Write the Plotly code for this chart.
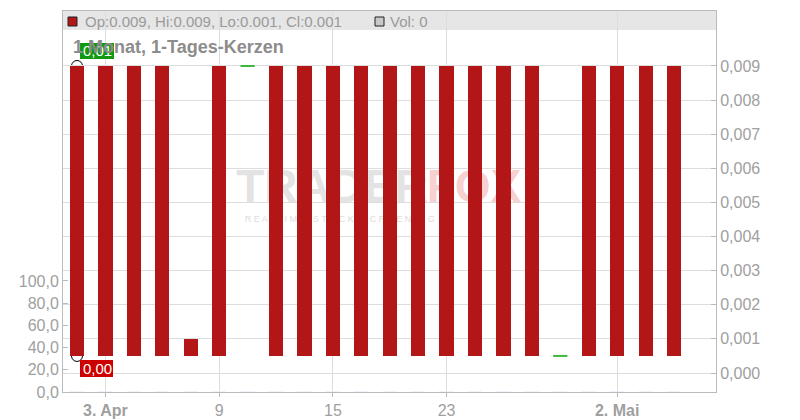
import plotly.graph_objects as go

# ---- data ----
idx = list(range(22))
opens  = [0.009, 0.009, 0.009, 0.009, 0.001, 0.009, 0.009, 0.009, 0.009, 0.009, 0.009,
          0.009, 0.009, 0.009, 0.009, 0.009, 0.009, 0.0005, 0.009, 0.009, 0.009, 0.009]
closes = [0.0005, 0.0005, 0.0005, 0.0005, 0.0005, 0.0005, 0.009, 0.0005, 0.0005, 0.0005, 0.0005,
          0.0005, 0.0005, 0.0005, 0.0005, 0.0005, 0.0005, 0.0005, 0.0005, 0.0005, 0.0005, 0.0005]
volumes = [0] * 22
tick_pos = [1, 5, 9, 13, 19]
tick_text = ["<b>3. Apr</b>", "9", "15", "23", "<b>2. Mai</b>"]
price_ticks = [0.000, 0.001, 0.002, 0.003, 0.004, 0.005, 0.006, 0.007, 0.008, 0.009]
vol_ticks = [0, 20, 40, 60, 80, 100]
hi_val, lo_val = 0.009, 0.0005

RED = "#b31616"
GREEN = "#3cb83c"
FONT = "Liberation Sans, Arial, sans-serif"
GRAY = "#a0a0a0"

prange = [-0.000557, 0.010612]

fig = go.Figure()

# watermark (on main subplot, below bars)
fig.add_trace(go.Scatter(x=[5.6], y=[0.00535], mode="text", text=["<b>TRADER</b>"],
                         textposition="middle right",
                         textfont=dict(size=46, color="rgba(222,222,222,0.85)", family=FONT),
                         hoverinfo="skip", showlegend=False))
fig.add_trace(go.Scatter(x=[12.3], y=[0.00535], mode="text", text=["<b>FOX</b>"],
                         textposition="middle right",
                         textfont=dict(size=46, color="rgba(245,195,195,0.8)", family=FONT),
                         hoverinfo="skip", showlegend=False))
fig.add_trace(go.Scatter(x=[5.9], y=[0.00448], mode="text",
                         text=["R E A L T I M E   S T O C K   S C R E E N I N G"],
                         textposition="middle right",
                         textfont=dict(size=9, color="rgba(210,210,210,0.8)", family=FONT),
                         hoverinfo="skip", showlegend=False))

# red candles
red_x = [i for i in idx if opens[i] != closes[i]]
fig.add_trace(go.Bar(x=red_x, y=[opens[i] - closes[i] for i in red_x],
                     base=[closes[i] for i in red_x], width=0.5,
                     marker=dict(color=RED, line=dict(width=0)),
                     yaxis="y2", showlegend=False))

# flat (doji) candles in green
gx, gy = [], []
for i in idx:
    if opens[i] == closes[i]:
        gx += [i - 0.25, i + 0.25, None]
        gy += [opens[i], closes[i], None]
fig.add_trace(go.Scatter(x=gx, y=gy, mode="lines", line=dict(color=GREEN, width=2),
                         yaxis="y2", showlegend=False, hoverinfo="skip"))

PW, PH = 653, 381
shapes = [
    # header band
    dict(type="rect", xref="paper", yref="paper", x0=0, x1=1, y0=1 - 19 / PH, y1=1,
         fillcolor="#e6e6e6", line=dict(width=0), layer="below"),
    # red legend square
    dict(type="rect", xref="paper", yref="paper",
         x0=(68 - 63) / PW, x1=(77 - 63) / PW, y0=(392 - 26) / PH, y1=(392 - 17) / PH,
         fillcolor=RED, line=dict(color="#222", width=1)),
    # gray legend square
    dict(type="rect", xref="paper", yref="paper",
         x0=(375 - 63) / PW, x1=(384 - 63) / PW, y0=(392 - 26) / PH, y1=(392 - 17) / PH,
         fillcolor="#c8c8c8", line=dict(color="#222", width=1)),
]
# hi / lo circles, below the candles
for v in (hi_val, lo_val):
    shapes.append(dict(type="circle", xref="x", yref="y", xsizemode="pixel", ysizemode="pixel",
                       xanchor=idx[0], yanchor=v, x0=-5.5, x1=5.5, y0=-5.5, y1=5.5,
                       line=dict(color="black", width=1), fillcolor="rgba(0,0,0,0)",
                       layer="below"))
shapes += [
    # hi label box
    dict(type="rect", xref="x", yref="y", xsizemode="pixel", ysizemode="pixel",
         xanchor=idx[0], yanchor=hi_val, x0=3, x1=37, y0=7, y1=23,
         fillcolor="#119911", line=dict(width=0)),
    # lo label box
    dict(type="rect", xref="x", yref="y", xsizemode="pixel", ysizemode="pixel",
         xanchor=idx[0], yanchor=lo_val, x0=3, x1=36, y0=-4, y1=-21,
         fillcolor="#cc0000", line=dict(width=0)),
]

annotations = [
    dict(xref="x", yref="y", x=idx[0], y=hi_val, xshift=20, yshift=15, text="0,01",
         showarrow=False, font=dict(size=15, color="white", family=FONT)),
    dict(xref="x", yref="y", x=idx[0], y=lo_val, xshift=20, yshift=-12.5, text="0,00",
         showarrow=False, font=dict(size=15, color="white", family=FONT)),
    dict(xref="paper", yref="paper", x=(71 - 63) / PW, y=(392 - 47.5) / PH,
         xanchor="left", yanchor="middle", text="<b>1 Monat, 1-Tages-Kerzen</b>",
         showarrow=False, font=dict(size=18, color="#8c8c8c", family=FONT)),
    dict(xref="paper", yref="paper", x=(83 - 63) / PW, y=(392 - 21) / PH,
         xanchor="left", yanchor="middle", text="Op:0.009, Hi:0.009, Lo:0.001, Cl:0.001",
         showarrow=False, font=dict(size=15, color="#9a9a9a", family=FONT)),
    dict(xref="paper", yref="paper", x=(388 - 63) / PW, y=(392 - 21) / PH,
         xanchor="left", yanchor="middle", text="Vol: 0",
         showarrow=False, font=dict(size=15, color="#9a9a9a", family=FONT)),
]

# volume (all zero)
fig.add_trace(go.Bar(x=idx, y=volumes, width=0.5, marker_color="#bbbbbb",
                     yaxis="y3", showlegend=False))

fig.update_layout(
    width=792, height=412,
    margin=dict(l=55, r=84, t=3, b=28, autoexpand=False),
    paper_bgcolor="white", plot_bgcolor="white",
    separators=",.",
    bargap=0, barmode="overlay",
    showlegend=False,
    shapes=shapes, annotations=annotations,
    xaxis=dict(range=[-0.4925, 22.476], tickmode="array", tickvals=tick_pos, ticktext=tick_text,
               showgrid=True, gridcolor="#dddddd", gridwidth=1, zeroline=False,
               showline=True, linecolor="#bbbbbb", linewidth=1, mirror=True,
               ticks="outside", ticklen=4, tickcolor="#bbbbbb", automargin=False,
               tickfont=dict(size=16, color=GRAY, family=FONT)),
    yaxis=dict(range=prange, side="right", tickmode="array", tickvals=price_ticks,
               tickformat=".3f", showgrid=True, gridcolor="#dddddd", gridwidth=1,
               zeroline=False, showline=True, linecolor="#bbbbbb", linewidth=1, mirror=True,
               ticks="inside", ticklen=5, tickcolor="#bbbbbb", automargin=False,
               tickfont=dict(size=16, color=GRAY, family=FONT)),
    yaxis2=dict(range=prange, overlaying="y", visible=False),
    yaxis3=dict(range=[0, 343.2], overlaying="y", side="left", tickmode="array",
                tickvals=vol_ticks, tickformat=".1f", showgrid=False, zeroline=False,
                showline=True, linecolor="#bbbbbb", linewidth=1, automargin=False,
                ticks="inside", ticklen=5, tickcolor="#bbbbbb",
                tickfont=dict(size=16, color=GRAY, family=FONT)),
)

fig.write_html("out.html")
